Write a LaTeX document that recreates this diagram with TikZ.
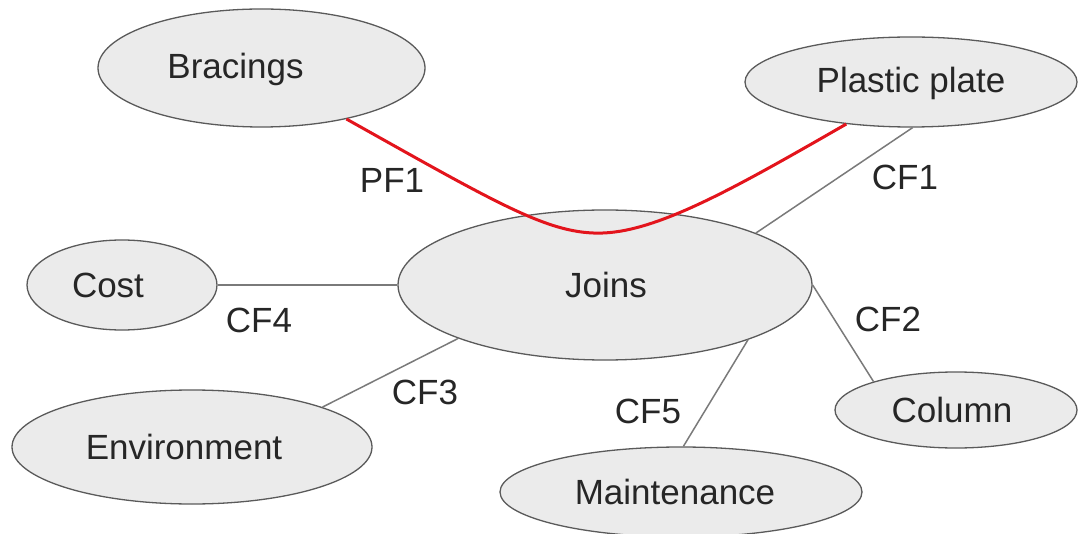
\documentclass[tikz,border=0pt]{standalone}
\usepackage{fontspec}
\setmainfont{Liberation Sans}
\usetikzlibrary{shapes.geometric}
\definecolor{ellfill}{HTML}{EBEBEB}
\definecolor{ellline}{HTML}{5A5A5A}
\definecolor{conn}{HTML}{7A7A7A}
\definecolor{redline}{HTML}{E3141C}
\begin{document}
\begin{tikzpicture}[x=1pt,y=-1pt,
  concept/.style={ellipse,draw=ellline,fill=ellfill,line width=1.3pt,inner sep=0pt,
    font=\fontsize{35}{40}\selectfont,text=black!85,text height=25pt,text depth=0pt},
  link/.style={draw=conn,line width=1.5pt},
  redlink/.style={draw=redline,line width=3pt},
  lbl/.style={font=\fontsize{35}{40}\selectfont,text=black!85,inner sep=0pt,text height=25pt,text depth=0pt}]
\useasboundingbox (0,0) rectangle (1078,534);
\node[concept,minimum width=327pt,minimum height=118pt,text depth=3pt] (brac) at (261.5,68) {Bracings\kern52pt};
\node[concept,minimum width=332pt,minimum height=90pt,text depth=4pt] (pp) at (911,82) {Plastic plate};
\node[concept,minimum width=190pt,minimum height=90pt] (cost) at (122,285) {Cost\kern28pt};
\node[concept,minimum width=414pt,minimum height=150pt] (joins) at (605,285) {\kern2pt Joins};
\node[concept,minimum width=360pt,minimum height=114pt] (env) at (192,447) {Environment\kern16pt};
\node[concept,minimum width=362pt,minimum height=90pt] (maint) at (681,492) {Maintenance\kern12pt};
\node[concept,minimum width=242pt,minimum height=76pt] (col) at (956,410) {Column\kern8pt};

\draw[link] (pp.-88.7) -- (joins.19.7);
\draw[link] (cost.east) -- (joins.west);
\draw[link] (env.17.5) -- (joins.200.4);
\draw[link] (maint.87.6) -- (joins.-21.7);
\draw[link] (col.161.6) -- (joins.0.5);
\draw[redlink] (brac.-31) .. controls (500,205) and (550,235) .. (603,233)
   .. controls (660,231) and (740,185) .. (pp.213.9);

\node[lbl] (pf1) at (392,180) {PF1};
\node[lbl] (cf1) at (905,177) {CF1};
\node[lbl] (cf4) at (259,320) {CF4};
\node[lbl] (cf2) at (888,319) {CF2};
\node[lbl] (cf3) at (425,392) {CF3};
\node[lbl] (cf5) at (648,411) {CF5};
\end{tikzpicture}
\end{document}
